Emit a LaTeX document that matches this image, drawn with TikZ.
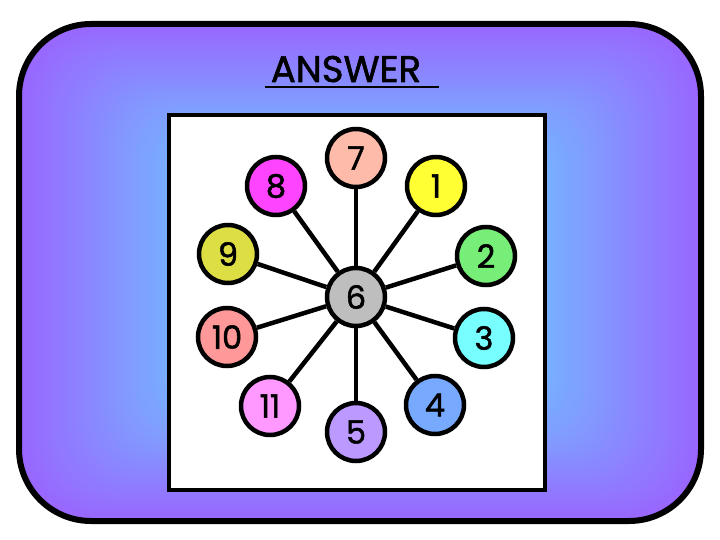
\documentclass[tikz,border=0pt]{standalone}
\usepackage{fontspec}
\setmainfont{Poppins}[RawFeature={embolden=1.6}]
\definecolor{bgpurple}{RGB}{153,102,255}
\definecolor{bgblue}{RGB}{117,180,255}
\definecolor{ballsalmon}{RGB}{255,187,170}
\definecolor{ballmagenta}{RGB}{255,68,255}
\definecolor{ballyellow}{RGB}{255,255,51}
\definecolor{ballolive}{RGB}{221,221,68}
\definecolor{ballgreen}{RGB}{119,238,119}
\definecolor{ballrose}{RGB}{255,153,153}
\definecolor{ballcyan}{RGB}{119,255,255}
\definecolor{ballpink}{RGB}{255,153,255}
\definecolor{ballblue}{RGB}{119,170,255}
\definecolor{balllilac}{RGB}{187,153,255}
\definecolor{ballgrey}{RGB}{190,190,190}
\tikzset{ball/.style={circle, draw=black, line width=4.5pt, minimum size=58pt, inner sep=0pt, font=\fontsize{32}{32}\selectfont}, spoke/.style={black, line width=4.5pt}}

\begin{document}
\begin{tikzpicture}[x=1pt,y=-1pt]
  \useasboundingbox (0,0) rectangle (720,540);
  \begin{scope}
   \clip[rounded corners=72pt] (19,24) rectangle (701,521);
   \foreach \k [evaluate=\k as \s using 1-0.47*\k/40, evaluate=\k as \p using 100*\k/40, evaluate=\k as \r using 72*(1-0.47*\k/40)] in {0,...,40}
    \fill[bgblue!\p!bgpurple, rounded corners=\r pt] (360-341*\s,272-249*\s) rectangle (360+341*\s,272+249*\s);
  \end{scope}
  \draw[line width=6pt, rounded corners=72pt] (19,24) rectangle (701,521);
  \node[anchor=base, inner sep=0pt, font=\fontsize{37}{37}\selectfont] (title) at (346,82) {ANSWER};
  \draw[line width=2.5pt] ([xshift=-6pt,yshift=-5pt]title.base west) -- ([xshift=18pt,yshift=-5pt]title.base east);
  \draw[fill=white, line width=4pt] (169,115) rectangle (545,490);
  \node[ball, fill=ballgrey]    (c6)  at (356,297) {6};
  \node[ball, fill=ballsalmon]  (c7)  at (356,158) {7};
  \node[ball, fill=ballmagenta] (c8)  at (276,186) {8};
  \node[ball, fill=ballyellow]  (c1)  at (436,186) {1};
  \node[ball, fill=ballolive]   (c9)  at (228,254) {9};
  \node[ball, fill=ballgreen]   (c2)  at (486,256) {2};
  \node[ball, fill=ballrose]    (c10) at (227,337) {10};
  \node[ball, fill=ballcyan]    (c3)  at (484,338) {3};
  \node[ball, fill=ballpink]    (c11) at (270,406) {11};
  \node[ball, fill=ballblue]    (c4)  at (435,405) {4};
  \node[ball, fill=balllilac]   (c5)  at (356,432) {5};
  \draw[spoke] (c6) -- (c7);
  \draw[spoke] (c6) -- (c8);
  \draw[spoke] (c6) -- (c1);
  \draw[spoke] (c6) -- (c9);
  \draw[spoke] (c6) -- (c2);
  \draw[spoke] (c6) -- (c10);
  \draw[spoke] (c6) -- (c3);
  \draw[spoke] (c6) -- (c11);
  \draw[spoke] (c6) -- (c4);
  \draw[spoke] (c6) -- (c5);
\end{tikzpicture}
\end{document}
